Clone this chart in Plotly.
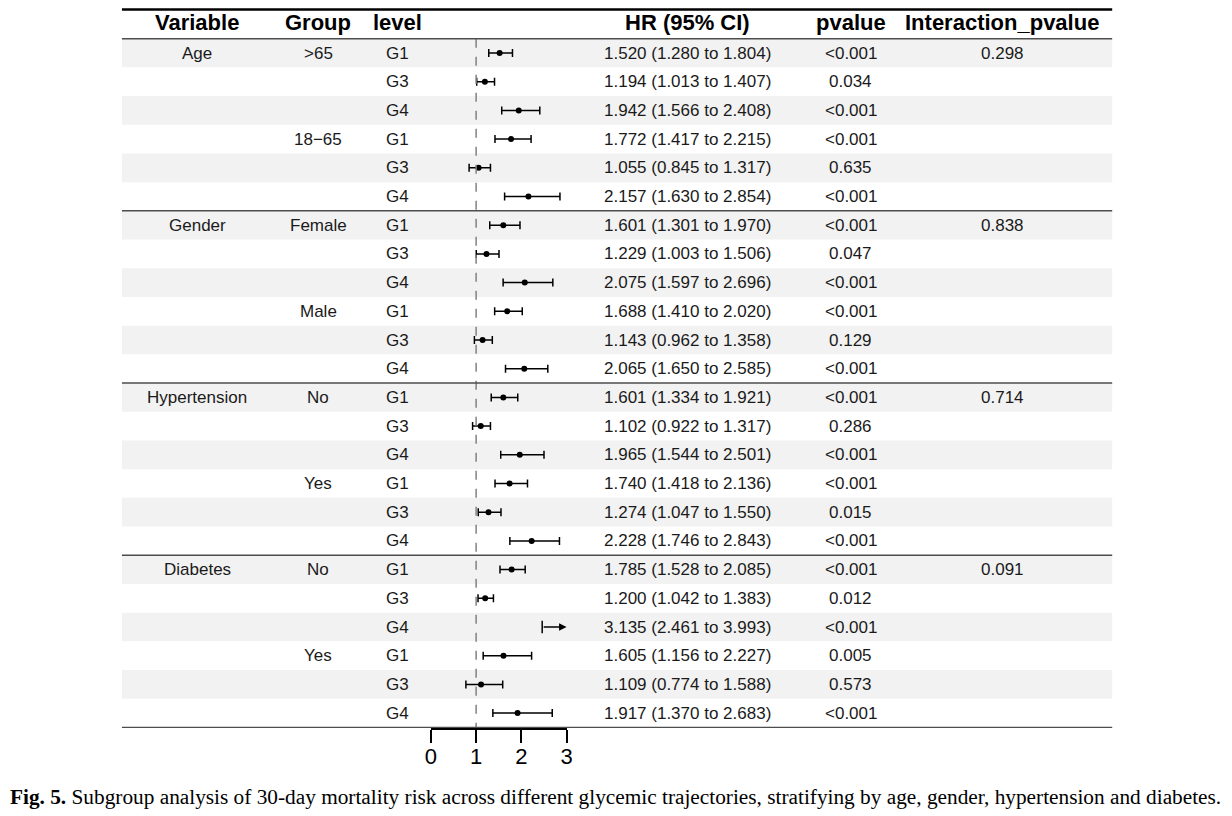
import plotly.graph_objects as go

# dados do forest plot (linha a linha)
variables = ["Age", "", "", "", "", "",
             "Gender", "", "", "", "", "",
             "Hypertension", "", "", "", "", "",
             "Diabetes", "", "", "", "", ""]
groups = [">65", "", "", "18\u221265", "", "",
          "Female", "", "", "Male", "", "",
          "No", "", "", "Yes", "", "",
          "No", "", "", "Yes", "", ""]
levels = ["G1", "G3", "G4"] * 8
hr = [1.520, 1.194, 1.942, 1.772, 1.055, 2.157,
      1.601, 1.229, 2.075, 1.688, 1.143, 2.065,
      1.601, 1.102, 1.965, 1.740, 1.274, 2.228,
      1.785, 1.200, 3.135, 1.605, 1.109, 1.917]
lower = [1.280, 1.013, 1.566, 1.417, 0.845, 1.630,
         1.301, 1.003, 1.597, 1.410, 0.962, 1.650,
         1.334, 0.922, 1.544, 1.418, 1.047, 1.746,
         1.528, 1.042, 2.461, 1.156, 0.774, 1.370]
upper = [1.804, 1.407, 2.408, 2.215, 1.317, 2.854,
         1.970, 1.506, 2.696, 2.020, 1.358, 2.585,
         1.921, 1.317, 2.501, 2.136, 1.550, 2.843,
         2.085, 1.383, 3.993, 2.227, 1.588, 2.683]
pvalues = ["<0.001", "0.034", "<0.001", "<0.001", "0.635", "<0.001",
           "<0.001", "0.047", "<0.001", "<0.001", "0.129", "<0.001",
           "<0.001", "0.286", "<0.001", "<0.001", "0.015", "<0.001",
           "<0.001", "0.012", "<0.001", "0.005", "0.573", "<0.001"]
interaction = ["0.298", "", "", "", "", "",
               "0.838", "", "", "", "", "",
               "0.714", "", "", "", "", "",
               "0.091", "", "", "", "", ""]
headers = ["Variable", "Group", "level", "HR (95% CI)", "pvalue", "Interaction_pvalue"]
x_ticks = [0, 1, 2, 3]
caption = ("<b>Fig. 5.</b> Subgroup analysis of 30-day mortality risk across different glycemic "
           "trajectories, stratifying by age, gender, hypertension and diabetes.")

W, H = 1232, 816
OFF = 8  # margem do body da página
X_MAX = x_ticks[-1]
rows = list(range(1, len(hr) + 1))
SANS = "Liberation Sans, Arial, sans-serif"


def px(p):
    # pixel da tela -> coordenada paper em x
    return (p - OFF) / W


# posição das colunas (px na tela)
col_x = [193, 315, 395, 688, 853, 1006]
tbl_left, tbl_right = px(117), px(1117)

# escala vertical das linhas
row_px = 28.7
row1 = 53 - OFF
plot_bottom = 728 - OFF


def row_at(p):
    return 1 + (p - OFF - row1) / row_px


fig = go.Figure()

# linhas que cabem no eixo: ponto + IC
inside = [i for i in range(len(hr)) if upper[i] <= X_MAX]
fig.add_trace(go.Scatter(
    x=[hr[i] for i in inside], y=[rows[i] for i in inside],
    mode="markers",
    marker=dict(color="black", size=6),
    error_x=dict(type="data", symmetric=False,
                 array=[upper[i] - hr[i] for i in inside],
                 arrayminus=[hr[i] - lower[i] for i in inside],
                 color="black", thickness=1.5, width=4),
    cliponaxis=False, hoverinfo="skip",
))

# linhas cortadas: seta até o limite do eixo
outside = [i for i in range(len(hr)) if upper[i] > X_MAX]
fig.add_trace(go.Scatter(
    x=[lower[i] for i in outside], y=[rows[i] for i in outside],
    mode="markers",
    marker=dict(symbol="line-ns-open", size=9, color="black",
                line=dict(color="black", width=1.5)),
    cliponaxis=False, hoverinfo="skip",
))
for i in outside:
    fig.add_annotation(x=X_MAX, y=rows[i], ax=lower[i], ay=rows[i],
                       xref="x", yref="y", axref="x", ayref="y",
                       showarrow=True, arrowhead=2, arrowsize=1, arrowwidth=1.5,
                       arrowcolor="black", text="")

shapes = []
# faixas cinza alternadas
for r in rows[::2]:
    shapes.append(dict(type="rect", xref="paper", yref="y", x0=tbl_left, x1=tbl_right,
                       y0=r - 0.5, y1=r + 0.5, fillcolor="#f2f2f2", line_width=0, layer="below"))
# linha de referência em 1
shapes.append(dict(type="line", xref="x", yref="y", x0=1, x1=1, y0=0.5, y1=len(hr) + 0.5,
                   line=dict(color="#808080", width=1.5, dash="dash")))
# linhas horizontais
top_line = row_at(OFF + 1.5)
shapes.append(dict(type="line", xref="paper", yref="y", x0=tbl_left, x1=tbl_right,
                   y0=top_line, y1=top_line, line=dict(color="black", width=2.5)))
for b in [0.5, 6.5, 12.5, 18.5, 24.5]:
    shapes.append(dict(type="line", xref="paper", yref="y", x0=tbl_left, x1=tbl_right,
                       y0=b, y1=b, line=dict(color="#4d4d4d", width=1.5)))

# textos da tabela
columns = [variables, groups, levels,
           [f"{h:.3f} ({lo:.3f} to {up:.3f})" for h, lo, up in zip(hr, lower, upper)],
           pvalues, interaction]
header_row = row_at(22)
for cx, head, col in zip(col_x, headers, columns):
    fig.add_annotation(x=px(cx), y=header_row, xref="paper", yref="y", text=f"<b>{head}</b>",
                       showarrow=False, xanchor="center", yanchor="middle",
                       font=dict(family=SANS, size=22, color="black"))
    for r, t in zip(rows, col):
        if t:
            fig.add_annotation(x=px(cx), y=r, xref="paper", yref="y", text=t,
                               showarrow=False, xanchor="center", yanchor="middle",
                               font=dict(family=SANS, size=17, color="#1a1a1a"))

fig.add_annotation(x=-6 / W, y=1 - (797 - OFF) / H, xref="paper", yref="paper", text=caption,
                   showarrow=False, xanchor="left", yanchor="middle",
                   font=dict(family="Liberation Serif, Times New Roman, serif", size=21.3, color="black"))

fig.update_layout(
    width=W, height=H,
    margin=dict(l=0, r=0, t=0, b=0),
    plot_bgcolor="rgba(0,0,0,0)", paper_bgcolor="white",
    showlegend=False,
    shapes=shapes,
    xaxis=dict(domain=[px(429), px(566)], range=[0, X_MAX], tickvals=x_ticks,
               showgrid=False, zeroline=False, showline=True, linecolor="black", linewidth=1.5,
               ticks="outside", ticklen=13, tickwidth=1.5, tickcolor="black",
               ticklabelstandoff=-5,
               tickfont=dict(family=SANS, size=22, color="black")),
    yaxis=dict(domain=[1 - plot_bottom / H, 1],
               range=[1 + (plot_bottom - row1) / row_px, 1 - row1 / row_px], visible=False),
)

fig.write_html("out.html")
